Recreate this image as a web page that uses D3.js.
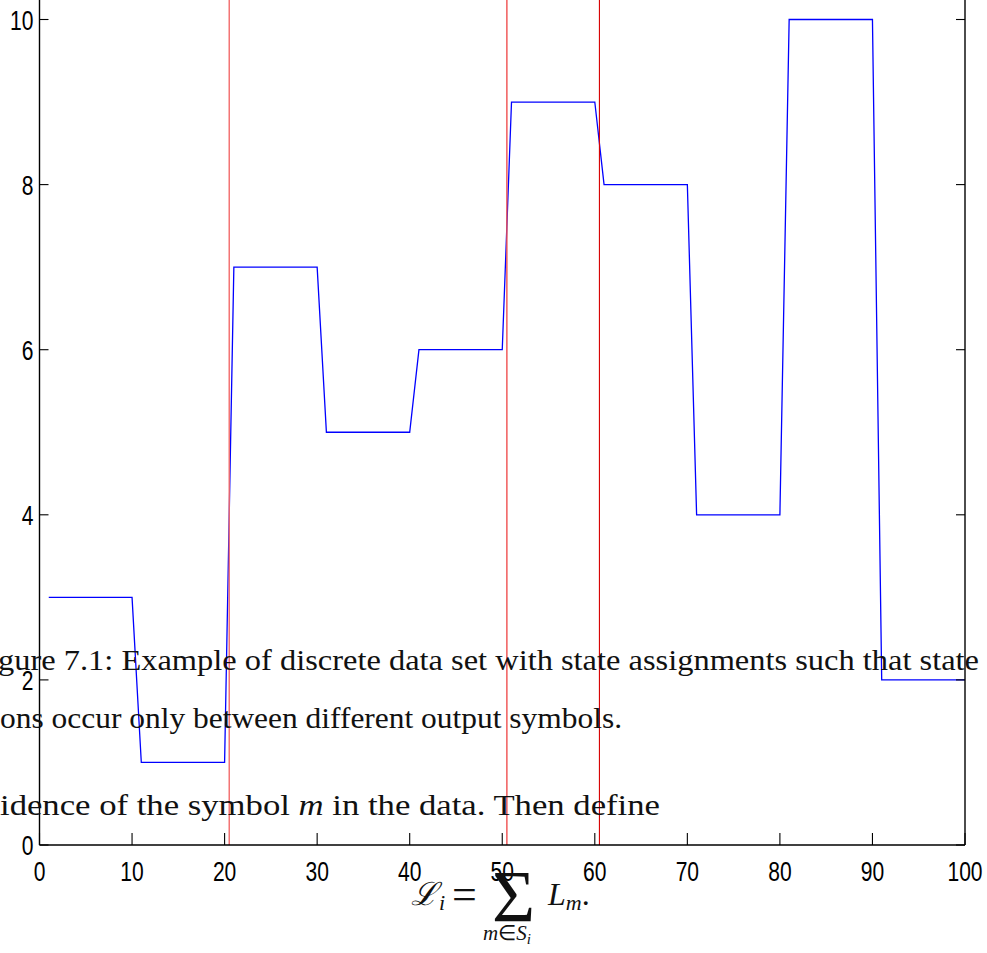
<!DOCTYPE html>
<html>
<head>
<meta charset="utf-8">
<script src="https://cdn.jsdelivr.net/npm/d3@7"></script>
<style>
  html, body { margin: 0; padding: 0; background: #fff; overflow: hidden; }
  svg { display: block; }
  .tick-label { font-family: "Liberation Sans", Arial, sans-serif; font-size: 27px; fill: #000; }
  .prose { font-family: "Liberation Serif", "Times New Roman", serif; font-size: 30px; fill: #111; }
</style>
</head>
<body>
<svg id="chart" width="987" height="953"></svg>
<script>
// Discrete data set: one output symbol per sample, held for blocks of ten samples
const sampleIndex = d3.range(1, 101);
const blockSymbols = [3, 1, 7, 5, 6, 9, 8, 4, 10, 2];
const symbolSeries = sampleIndex.map(i => blockSymbols[Math.floor((i - 1) / 10)]);

// State boundaries (vertical markers)
const boundaries = [20.5, 50.5, 60.5];
const boundaryColors = ["#f26a6a", "#f05050", "#d80000"];

// Axis ticks
const xTicks = [0, 10, 20, 30, 40, 50, 60, 70, 80, 90, 100];
const yTicks = [0, 2, 4, 6, 8, 10];

const svg = d3.select("#chart");
const plotLeft = 39.5, plotRight = 965, plotBottom = 845, plotTop = 19.5;

const x = d3.scaleLinear().domain([0, 100]).range([plotLeft, plotRight]);
const y = d3.scaleLinear().domain([0, 10]).range([plotBottom, plotTop]);

// Data line
const line = d3.line().x((d, i) => x(sampleIndex[i])).y(d => y(d));
svg.append("path")
  .datum(symbolSeries)
  .attr("d", line)
  .attr("fill", "none")
  .attr("stroke", "#0000ff")
  .attr("stroke-width", 1.3);

// Boundary markers
svg.selectAll(".boundary")
  .data(boundaries)
  .enter().append("line")
  .attr("class", "boundary")
  .attr("x1", d => x(d)).attr("x2", d => x(d))
  .attr("y1", 0).attr("y2", plotBottom)
  .attr("stroke", (d, i) => boundaryColors[i])
  .attr("stroke-width", (d, i) => i < 2 ? 1.4 : 1.1);

// Axes box (left, bottom, right)
const axisG = svg.append("g");
axisG.append("line").attr("x1", plotLeft).attr("x2", plotLeft).attr("y1", 0).attr("y2", plotBottom)
  .attr("stroke", "#000").attr("stroke-width", 1.4);
axisG.append("line").attr("x1", plotRight).attr("x2", plotRight).attr("y1", 0).attr("y2", plotBottom)
  .attr("stroke", "#000").attr("stroke-width", 1.4);
axisG.append("line").attr("x1", plotLeft).attr("x2", plotRight).attr("y1", plotBottom).attr("y2", plotBottom)
  .attr("stroke", "#000").attr("stroke-width", 1.6);

// Y ticks (inward, both sides) and labels
yTicks.forEach(t => {
  axisG.append("line").attr("x1", plotLeft).attr("x2", plotLeft + 9).attr("y1", y(t)).attr("y2", y(t))
    .attr("stroke", "#000").attr("stroke-width", 1.1);
  axisG.append("line").attr("x1", plotRight).attr("x2", plotRight - 9).attr("y1", y(t)).attr("y2", y(t))
    .attr("stroke", "#000").attr("stroke-width", 1.1);
  axisG.append("text").attr("class", "tick-label")
    .attr("transform", `translate(${plotLeft - 6},${y(t) + 10}) scale(0.78,1)`)
    .attr("text-anchor", "end")
    .text(t);
});

// X ticks (inward) and labels
xTicks.forEach(t => {
  axisG.append("line").attr("x1", x(t)).attr("x2", x(t)).attr("y1", plotBottom).attr("y2", plotBottom - 12)
    .attr("stroke", "#000").attr("stroke-width", 1.1);
  axisG.append("text").attr("class", "tick-label")
    .attr("transform", `translate(${x(t)},${880.5}) scale(0.78,1)`)
    .attr("text-anchor", "middle")
    .text(t);
});

// Surrounding document text
const prose = svg.append("g");
prose.append("text").attr("class", "prose")
  .attr("x", -2).attr("y", 670)
  .attr("textLength", 981).attr("lengthAdjust", "spacingAndGlyphs")
  .text("gure 7.1: Example of discrete data set with state assignments such that state");
prose.append("text").attr("class", "prose")
  .attr("x", 0).attr("y", 728)
  .attr("textLength", 622).attr("lengthAdjust", "spacingAndGlyphs")
  .text("ons occur only between different output symbols.");
const l3 = prose.append("text").attr("class", "prose")
  .attr("x", 0).attr("y", 815)
  .attr("textLength", 660).attr("lengthAdjust", "spacingAndGlyphs");
l3.append("tspan").text("idence of the symbol ");
l3.append("tspan").style("font-style", "italic").text("m");
l3.append("tspan").text(" in the data.  Then define");

// Display equation
const eq = svg.append("g");
const lhs = eq.append("text").attr("class", "prose").attr("x", 411).attr("y", 905);
lhs.append("tspan").style("font-family", "'DejaVu Serif'").style("font-style", "italic").style("font-size", "32px").text("\u2112");
lhs.append("tspan").style("font-style", "italic").style("font-size", "22px").attr("dy", 5).attr("dx", 1).text("i");
eq.append("text").attr("class", "prose").attr("x", 464.5).attr("y", 909)
  .attr("text-anchor", "middle").style("font-size", "44px").text("=");
eq.append("text").attr("class", "prose").attr("x", 513.5).attr("y", 922)
  .attr("text-anchor", "middle").style("font-size", "74px").text("\u03A3");
const sub = eq.append("text").attr("class", "prose").attr("x", 483).attr("y", 940)
  .style("font-size", "21px");
sub.append("tspan").style("font-style", "italic").text("m");
sub.append("tspan").text("\u2208");
sub.append("tspan").style("font-style", "italic").text("S");
sub.append("tspan").style("font-style", "italic").style("font-size", "15px").attr("dy", 4).text("i");
const rhs = eq.append("text").attr("class", "prose").attr("x", 548).attr("y", 905).style("font-size", "32px");
rhs.append("tspan").style("font-style", "italic").text("L");
rhs.append("tspan").style("font-style", "italic").style("font-size", "22px").attr("dy", 5).text("m");
rhs.append("tspan").attr("dy", -5).text(".");
</script>
</body>
</html>
